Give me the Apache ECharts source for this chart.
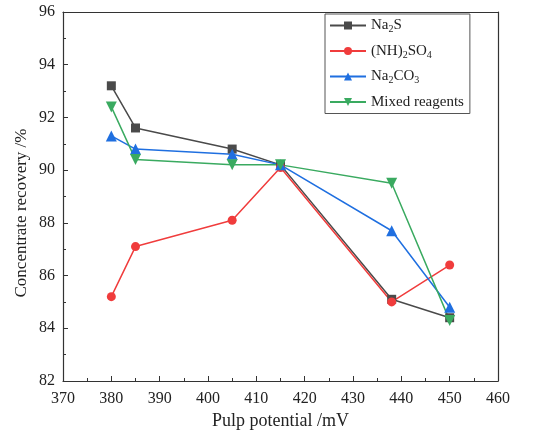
<!DOCTYPE html>
<html><head><meta charset="utf-8">
<script src="https://cdn.jsdelivr.net/npm/echarts@6/dist/echarts.min.js"></script>
<style>html,body{margin:0;padding:0;background:#fff}#c{width:550px;height:435px}</style>
</head><body><div id="c"></div>
<script>
const potentials = [380, 385, 405, 415, 438, 450];
const na2s = [93.2, 91.6, 90.8, 90.2, 85.1, 84.4];
const nh2so4 = [85.2, 87.1, 88.1, 90.1, 85.0, 86.4];
const na2co3 = [91.3, 90.8, 90.6, 90.2, 87.7, 84.8];
const mixed = [92.4, 90.4, 90.2, 90.2, 89.5, 84.3];
const seriesNames = ['Na2S', '(NH)2SO4', 'Na2CO3', 'Mixed reagents'];
const legendRich = {
  'Na2S': 'Na{s|2}S',
  '(NH)2SO4': '(NH){s|2}SO{s|4}',
  'Na2CO3': 'Na{s|2}CO{s|3}',
  'Mixed reagents': 'Mixed reagents'
};
const xTitle = 'Pulp potential /mV';
const yTitle = 'Concentrate recovery /%';
const font = '"Liberation Serif","Times New Roman",serif';
const pair = arr => potentials.map((x, i) => [x, arr[i]]);
const chart = echarts.init(document.getElementById('c'));
const axisLine = {show: true, lineStyle: {color: '#333', width: 1.2}};
const mk = (name, data, color, symbol, size, rot) => ({
  name, type: 'line', data: pair(data), symbol, symbolSize: size, symbolRotate: rot || 0,
  lineStyle: {color, width: 1.5}, itemStyle: {color}
});
chart.setOption({
  animation: false,
  textStyle: {fontFamily: font},
  grid: {left: 63, right: 52, top: 12, bottom: 52},
  graphic: [{
    type: 'text', x: 22, y: 213, rotation: Math.PI / 2,
    style: {text: yTitle, font: '17px ' + font, fill: '#222', align: 'center', verticalAlign: 'middle'}
  }],
  legend: {
    orient: 'vertical', left: 325, top: 14, itemWidth: 36, itemHeight: 10, itemGap: 9,
    borderColor: '#555', borderWidth: 1, padding: [4, 6, 4, 4], borderRadius: 0,
    data: seriesNames,
    formatter: n => legendRich[n],
    textStyle: {fontFamily: font, fontSize: 15, color: '#222',
      rich: {s: {fontSize: 10, fontFamily: font, color: '#222', padding: [8, 0, 0, 0]}}}
  },
  xAxis: [{
    type: 'value', min: 370, max: 460, interval: 10,
    name: xTitle, nameLocation: 'middle', nameGap: 31,
    nameTextStyle: {fontSize: 18, color: '#222', fontFamily: font},
    axisLine, axisTick: {inside: true, length: 5, lineStyle: {color: '#333'}},
    minorTick: {show: true, splitNumber: 2, length: 3, lineStyle: {color: '#333'}},
    splitLine: {show: false},
    axisLabel: {fontSize: 16, color: '#222', fontFamily: font, margin: 10}
  }, {
    type: 'value', min: 370, max: 460, interval: 10, position: 'top',
    axisLine, axisTick: {show: false}, axisLabel: {show: false}, splitLine: {show: false}
  }],
  yAxis: [{
    type: 'value', min: 82, max: 96, interval: 2,
    axisLine, axisTick: {inside: true, length: 5, lineStyle: {color: '#333'}},
    minorTick: {show: true, splitNumber: 2, length: 3, lineStyle: {color: '#333'}},
    splitLine: {show: false},
    axisLabel: {fontSize: 16, color: '#222', fontFamily: font, margin: 8}
  }, {
    type: 'value', min: 82, max: 96, interval: 2, position: 'right',
    axisLine, axisTick: {show: false}, axisLabel: {show: false}, splitLine: {show: false}
  }],
  series: [
    mk('Na2S', na2s, '#4a4a4a', 'rect', 9),
    mk('(NH)2SO4', nh2so4, '#f03c3c', 'circle', 9),
    mk('Na2CO3', na2co3, '#1f6fe0', 'triangle', 11),
    mk('Mixed reagents', mixed, '#3aaa60', 'triangle', 11, 180)
  ]
});
</script></body></html>
